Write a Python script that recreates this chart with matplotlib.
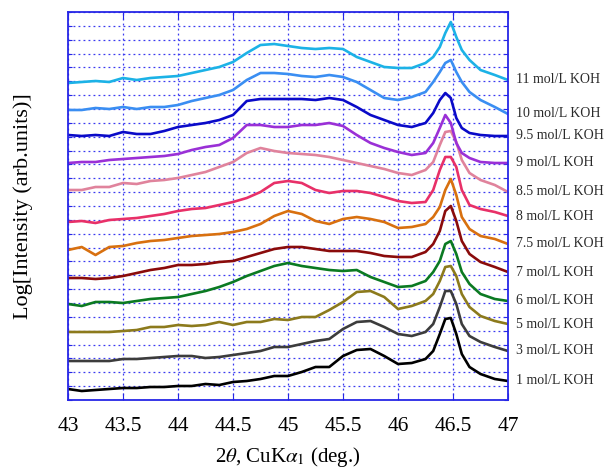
import numpy as np
import matplotlib
matplotlib.use('Agg')
import matplotlib.pyplot as plt

plt.rcParams['font.family'] = ['Liberation Serif', 'DejaVu Serif']
plt.rcParams['mathtext.fontset'] = 'stix'

# 2theta grid (deg) shared by all patterns
two_theta = [43.0, 43.125, 43.25, 43.375, 43.5, 43.625, 43.75, 43.875, 44.0,
             44.125, 44.25, 44.375, 44.5, 44.625, 44.75, 44.875, 45.0,
             45.125, 45.25, 45.375, 45.5, 45.625, 45.75, 45.875, 46.0,
             46.125, 46.25, 46.32, 46.38, 46.43, 46.48, 46.53, 46.58, 46.65, 46.75, 46.88, 47.0]

# log intensity, arbitrary units (offset stacked)
koh_11 = [317, 318, 319, 318, 322, 320, 322, 323, 324,
          327, 330, 333, 338, 347, 355, 356, 354,
          352, 351, 352, 351, 343, 338, 333, 332,
          332, 337, 343, 353, 367, 378, 363, 350, 340, 330, 325, 320]
koh_10 = [290, 290, 292, 291, 293, 291, 293, 293, 295,
          299, 302, 305, 310, 320, 327, 327, 326,
          324, 323, 325, 323, 318, 310, 302, 300,
          303, 308, 318, 328, 337, 340, 328, 318, 308, 300, 293, 286]
koh_9_5 = [265, 264, 265, 264, 268, 266, 266, 269, 273,
           275, 277, 280, 285, 299, 301, 301, 301,
           301, 300, 302, 300, 293, 285, 280, 275,
           273, 277, 287, 300, 307, 302, 282, 272, 267, 265, 264, 264]
koh_9 = [237, 238, 238, 240, 241, 242, 243, 244, 246,
         250, 253, 255, 262, 275, 275, 273, 273,
         275, 275, 277, 274, 265, 257, 252, 248,
         245, 247, 257, 272, 285, 277, 257, 247, 242, 238, 237, 237]
koh_8_5 = [210, 210, 213, 213, 217, 216, 219, 220, 222,
           225, 228, 233, 238, 247, 252, 249, 247,
           246, 245, 243, 240, 237, 234, 231, 227,
           225, 230, 238, 255, 268, 269, 258, 240, 227, 220, 215, 208]
koh_8 = [178, 179, 177, 180, 181, 182, 184, 186, 189,
         191, 192, 195, 198, 202, 208, 217, 219,
         217, 210, 207, 209, 209, 207, 203, 199,
         197, 198, 210, 230, 243, 243, 233, 210, 195, 191, 188, 184]
koh_7_5 = [150, 153, 145, 153, 154, 157, 159, 160, 162,
           164, 165, 166, 168, 171, 176, 184, 189,
           186, 179, 176, 181, 183, 181, 178, 172,
           173, 176, 183, 193, 210, 221, 205, 183, 171, 164, 161, 156]
koh_7 = [122, 122, 121, 122, 124, 127, 130, 132, 135,
         135, 136, 138, 139, 143, 147, 151, 153,
         153, 151, 149, 149, 149, 147, 144, 143,
         143, 148, 156, 169, 189, 194, 179, 159, 146, 138, 133, 128]
koh_6 = [96, 94, 98, 98, 97, 99, 101, 102, 103,
         106, 109, 113, 118, 124, 129, 134, 137,
         134, 132, 130, 129, 130, 123, 118, 113,
         114, 119, 128, 139, 156, 159, 146, 128, 116, 106, 101, 99]
koh_5 = [68, 68, 68, 68, 69, 70, 73, 73, 75,
         74, 75, 78, 75, 78, 78, 81, 80,
         83, 83, 90, 98, 108, 109, 103, 91,
         94, 99, 106, 119, 133, 134, 124, 106, 93, 84, 79, 76]
koh_3 = [39, 39, 39, 39, 41, 41, 42, 43, 44,
         44, 42, 43, 45, 47, 49, 53, 53,
         56, 59, 61, 71, 78, 79, 73, 66,
         64, 68, 76, 93, 109, 109, 96, 76, 64, 58, 53, 49]
koh_1 = [11, 9, 10, 11, 12, 12, 13, 13, 14,
         14, 16, 15, 18, 19, 21, 24, 24,
         28, 33, 33, 44, 50, 51, 44, 36,
         37, 41, 49, 66, 81, 82, 66, 46, 33, 26, 21, 19]

series = [koh_1, koh_3, koh_5, koh_6, koh_7, koh_7_5,
          koh_8, koh_8_5, koh_9, koh_9_5, koh_10, koh_11]
labels = ['1 mol/L KOH', '3 mol/L KOH', '5 mol/L KOH', '6 mol/L KOH',
          '7 mol/L KOH', '7.5 mol/L KOH', '8 mol/L KOH', '8.5 mol/L KOH',
          '9 mol/L KOH', '9.5 mol/L KOH', '10 mol/L KOH', '11 mol/L KOH']
colors = ['#000000', '#3c3c3c', '#8c7a1c', '#0b7a22', '#8a0b0b', '#d8700f',
          '#e83068', '#e0839c', '#9a30d6', '#0a0ac8', '#3a8ef2', '#1cb2e6']

x_ticks = [43, 43.5, 44, 44.5, 45, 45.5, 46, 46.5, 47]

fig = plt.figure(figsize=(6.08, 4.72), dpi=100)
ax = fig.add_axes([68 / 608, 72 / 472, 440 / 608, 388 / 472])

for y, lab, c in zip(series, labels, colors):
    ax.plot(two_theta, y, color=c, lw=1.9, solid_joinstyle='round')
    ax.text(47.072, y[-1], lab, color='#2a2a2a', fontsize=10,
            ha='left', va='center', clip_on=False)

ax.set_xlim(43, 47)
ax.set_ylim(0, 388)
ax.set_xticks(x_ticks)
ax.set_xticklabels([f'{t:g}' for t in x_ticks])
ax.set_yticks(np.linspace(0, 388, 29))
ax.set_yticklabels([])

blue = '#2626e6'
for s in ax.spines.values():
    s.set_color(blue)
    s.set_linewidth(1.3)
ax.tick_params(axis='x', direction='in', top=True, length=5, color=blue,
               labelsize=15.5, pad=12.5)
ax.tick_params(axis='y', direction='in', right=True, length=3, color=blue)
ax.grid(True, color='#3a3af0', linestyle=(0, (1.5, 2.5)), linewidth=0.9)
ax.set_axisbelow(True)

ax.set_xlabel(r'2$\theta$, CuK$\alpha_{1}$ (deg.)', fontsize=15, labelpad=6)
ax.set_ylabel('Log[Intensity (arb.units)]', fontsize=16, labelpad=22)

fig.savefig('out.png', dpi=100)
